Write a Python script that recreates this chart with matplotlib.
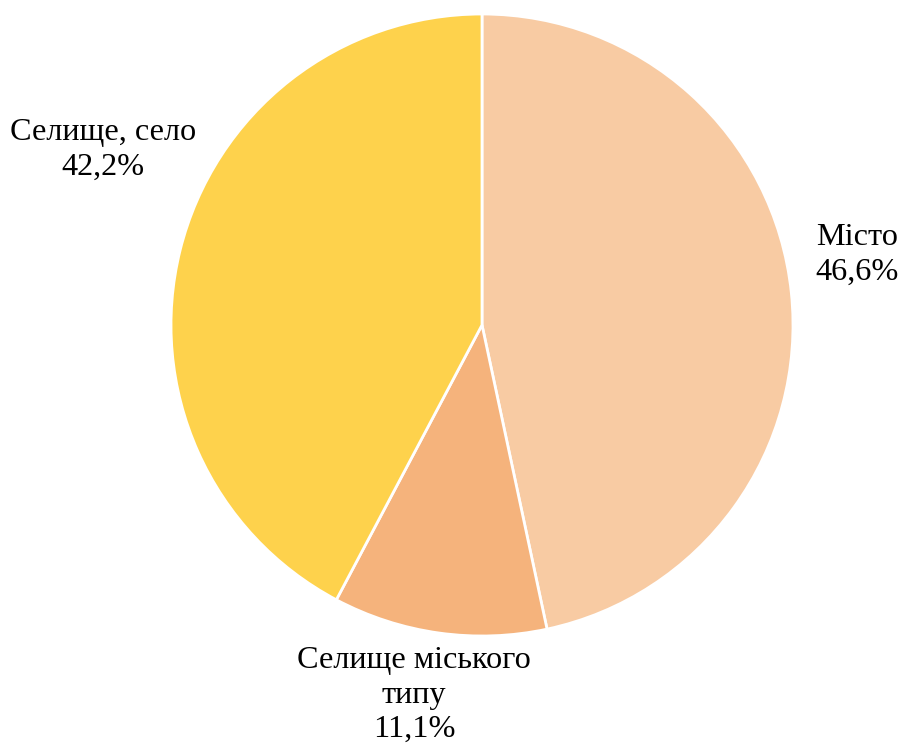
import matplotlib.pyplot as plt

# data
labels = ["Місто", "Селище міського\nтипу", "Селище, село"]
shares = [46.6, 11.1, 42.2]
colors = ["#F8CBA3", "#F5B37C", "#FED24C"]

W, H = 902, 749
fig = plt.figure(figsize=(W / 100, H / 100), dpi=100)
fig.patch.set_facecolor("white")

# pie centre and radius in pixels
cx, cy, r = 482, 325, 311
ax = fig.add_axes([(cx - r) / W, (H - cy - r) / H, 2 * r / W, 2 * r / H])

ax.pie(shares, colors=colors, startangle=90, counterclock=False, radius=1,
       wedgeprops={"edgecolor": "white", "linewidth": 2})
ax.set_xlim(-1, 1)
ax.set_ylim(-1, 1)
ax.set_aspect("equal")
ax.axis("off")

# label positions (data coords relative to pie centre)
label_pos = [(1.206, 0.225), (-0.219, -1.19), (-1.219, 0.563)]
for lab, val, (x, y) in zip(labels, shares, label_pos):
    txt = f"{lab}\n{val:.1f}%".replace(".", ",")
    ax.text(x, y, txt, ha="center", va="center", fontsize=23.2,
            family="Liberation Serif", color="black", linespacing=1.25,
            clip_on=False)

fig.savefig("out.png", dpi=100, facecolor="white")
